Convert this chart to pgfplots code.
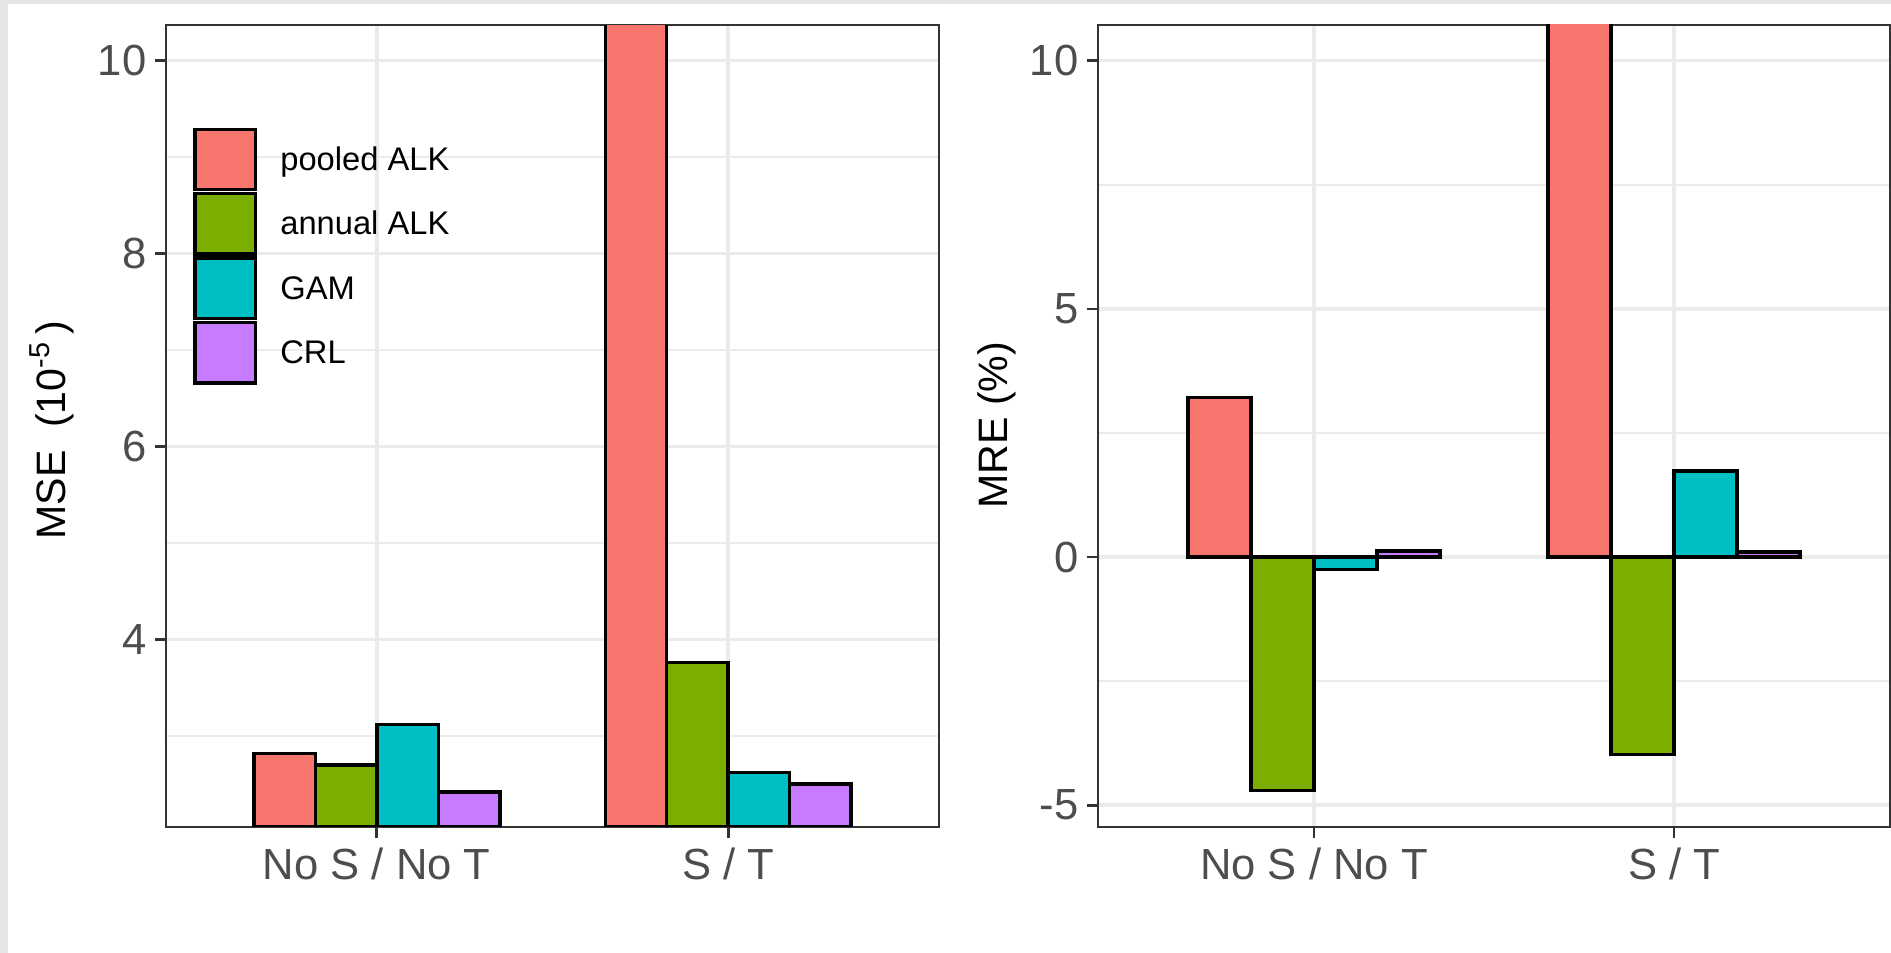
\documentclass[border=0pt]{standalone}
\usepackage{pgfplots}
\pgfplotsset{compat=1.18}
\usepackage{fontspec}
\setmainfont{Liberation Sans}

\definecolor{poolc}{HTML}{F8766D}
\definecolor{annc}{HTML}{7CAE00}
\definecolor{gamc}{HTML}{00BFC4}
\definecolor{crlc}{HTML}{C77CFF}
\definecolor{grey20}{HTML}{333333}
\definecolor{grey30}{HTML}{4D4D4D}
\definecolor{grey92}{HTML}{EBEBEB}
\definecolor{stripgrey}{HTML}{E6E6E6}

\pgfplotsset{
  layers/bars under frame/.define layer set={axis background,axis grid,pre main,main,axis ticks,axis lines,axis tick labels,axis descriptions,axis foreground}{},
  panel/.style={
    set layers=bars under frame,
    scale only axis,
    anchor=south west,
    height=80.2mm,
    xmin=0.4, xmax=2.6,
    xtick={1,2},
    xticklabels={No S / No T, S / T},
    ybar=0pt, bar width=0.175,
    xmajorgrids, ymajorgrids, yminorgrids,
    major grid style={draw=grey92, line width=0.35mm},
    minor grid style={draw=grey92, line width=0.2mm},
    axis line style={draw=grey20, line width=0.27mm},
    tick style={draw=grey20, line width=0.27mm},
    tick align=outside, tick pos=left,
    major tick length=1.1mm, minor tick length=0pt,
    /pgf/number format/assume math mode=true,
    tick label style={text=grey30, font=\fontsize{12.4}{14}\selectfont},
    yticklabel style={anchor=east, inner sep=0pt, xshift=-0.8mm},
    xticklabel style={anchor=north, inner sep=0pt, yshift=-0.9mm},
  },
  ylab/.style={every axis y label/.style={at={(axis description cs:#1)}, rotate=90, anchor=center,
      font=\fontsize{11.7}{14}\selectfont, text=black}},
  bars/.style={draw=black, line width=0.34mm},
}

\begin{document}
\begin{tikzpicture}
\fill[stripgrey] (0,0) rectangle (189.1mm,95.3mm);
\fill[white] (0.8mm,0) rectangle (189.1mm,94.9mm);

% MSE panel
\begin{axis}[panel,
  at={(16.6mm,12.6mm)}, width=77.3mm,
  ymin=2.056, ymax=10.37,
  ytick={4,6,8,10}, minor ytick={3,5,7,9},
  ylabel={MSE\ \ (10\textsuperscript{-5}\,)},
  ylab={-0.1475,0.495},
  legend cell align=left,
  legend image code/.code={\draw[#1, line width=0.34mm] (0mm,-1.95mm) rectangle (6.05mm,4.1mm);},
  legend style={at={(axis description cs:0.0355,0.8722)}, anchor=north west,
    draw=none, fill=none, inner sep=0pt, outer sep=0pt,
    row sep=0.05mm, column sep=2.3mm,
    nodes={inner sep=0pt, anchor=base west, font=\fontsize{9.3}{11}\selectfont, text=black}},
]
\addplot[bars, fill=poolc] coordinates {(1,2.82) (2,11.5)};
\addlegendentry{pooled ALK}
\addplot[bars, fill=annc] coordinates {(1,2.70) (2,3.76)};
\addlegendentry{annual ALK}
\addplot[bars, fill=gamc] coordinates {(1,3.12) (2,2.62)};
\addlegendentry{GAM}
\addplot[bars, fill=crlc] coordinates {(1,2.42) (2,2.50)};
\addlegendentry{CRL}
\end{axis}

% MRE panel
\begin{axis}[panel,
  at={(109.8mm,12.6mm)}, width=79.2mm,
  ymin=-5.44, ymax=10.72,
  ytick={-5,0,5,10}, minor ytick={-2.5,2.5,7.5},
  ylabel={MRE (\%)},
  ylab={-0.1275,0.501},
]
\addplot[bars, fill=poolc] coordinates {(1,3.22) (2,12.5)};
\addplot[bars, fill=annc] coordinates {(1,-4.70) (2,-3.98)};
\addplot[bars, fill=gamc] coordinates {(1,-0.25) (2,1.73)};
\addplot[bars, fill=crlc] coordinates {(1,0.12) (2,0.10)};
\end{axis}

% page extent
\pgfresetboundingbox
\useasboundingbox (0,0) rectangle (189.1mm,95.3mm);
\end{tikzpicture}
\end{document}
